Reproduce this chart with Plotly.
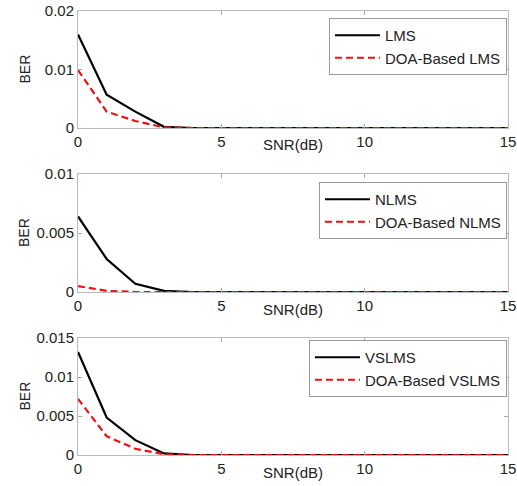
import plotly.graph_objects as go

snr = list(range(0, 16))
lms = [0.016, 0.0057, 0.0028, 0.0002] + [0.0] * 12
doa_lms = [0.0099, 0.0028, 0.0012, 0.0001] + [0.0] * 12
nlms = [0.0064, 0.0028, 0.0007, 0.0001] + [0.0] * 12
doa_nlms = [0.0005, 0.0001, 0.0, 0.0] + [0.0] * 12
vslms = [0.0132, 0.0048, 0.0019, 0.0002] + [0.0] * 12
doa_vslms = [0.0072, 0.0024, 0.0008, 0.0001] + [0.0] * 12

names = [("LMS", "DOA-Based LMS"), ("NLMS", "DOA-Based NLMS"), ("VSLMS", "DOA-Based VSLMS")]
series = [(lms, doa_lms), (nlms, doa_nlms), (vslms, doa_vslms)]
yranges = [[0, 0.02], [0, 0.01], [0, 0.015]]
yticks = [[0, 0.01, 0.02], [0, 0.005, 0.01], [0, 0.005, 0.01, 0.015]]
yticktext = [["0", "0.01", "0.02"], ["0", "0.005", "0.01"], ["0", "0.005", "0.01", "0.015"]]

W, H = 517, 486
x0, x1 = 78, 508
panels_px = [(11, 128), (174, 292), (338, 455)]
legend_top_px = [18, 182, 340]

FONT = "Liberation Sans, Arial, sans-serif"
fig = go.Figure()
layout = dict(
    width=W, height=H, margin=dict(l=0, r=0, t=0, b=0, autoexpand=False),
    paper_bgcolor="white", plot_bgcolor="white",
    font=dict(family=FONT, size=15, color="#222"),
    annotations=[],
)
for i in range(3):
    xa = "x" if i == 0 else f"x{i+1}"
    ya = "y" if i == 0 else f"y{i+1}"
    lg = "legend" if i == 0 else f"legend{i+1}"
    a, b = series[i]
    n1, n2 = names[i]
    fig.add_trace(go.Scatter(x=snr, y=a, mode="lines", name=n1, xaxis=xa, yaxis=ya, legend=lg,
                             line=dict(color="black", width=2.2)))
    fig.add_trace(go.Scatter(x=snr, y=b, mode="lines", name=n2, xaxis=xa, yaxis=ya, legend=lg,
                             line=dict(color="#ee1111", width=2.2, dash="7px,4px")))
    top, bot = panels_px[i]
    axkey_x = "xaxis" if i == 0 else f"xaxis{i+1}"
    axkey_y = "yaxis" if i == 0 else f"yaxis{i+1}"
    layout[axkey_x] = dict(
        domain=[x0 / W, x1 / W], anchor=ya, range=[0, 15], automargin=False,
        tickvals=[0, 5, 10, 15], ticks="inside", ticklen=4, tickcolor="#aaa",
        showline=True, mirror="ticks", linecolor="#bbb", linewidth=1,
        showgrid=False, zeroline=False, fixedrange=True,
        tickfont=dict(size=15, color="#222"),
    )
    layout[axkey_y] = dict(
        domain=[1 - bot / H, 1 - top / H], anchor=xa, range=yranges[i], automargin=False,
        tickvals=yticks[i], ticktext=yticktext[i], ticks="inside", ticklen=4, tickcolor="#aaa",
        showline=True, mirror="ticks", linecolor="#bbb", linewidth=1,
        showgrid=False, zeroline=False, fixedrange=True,
        tickfont=dict(size=15, color="#222"),
    )
    layout[lg] = dict(
        x=x1 / W - 0.002, y=1 - legend_top_px[i] / H, xanchor="right", yanchor="top",
        xref="paper", yref="paper", itemwidth=45,
        bgcolor="white", bordercolor="#999", borderwidth=1,
        font=dict(size=15, color="#222"), tracegroupgap=0,
    )
    layout["annotations"].append(dict(
        text="SNR(dB)", x=7.5, xref=xa, y=1 - (bot + 17) / H, yref="paper",
        showarrow=False, font=dict(size=15, color="#222"), xanchor="center", yanchor="middle",
    ))
    layout["annotations"].append(dict(
        text="BER", x=24 / W, xref="paper", y=1 - ((top + bot) / 2) / H, yref="paper",
        showarrow=False, textangle=-90, font=dict(size=14, color="#222"),
        xanchor="center", yanchor="middle",
    ))

fig.update_layout(**layout)
fig.write_html("out.html", post_script="document.body.style.margin='0px';",
               config={"displayModeBar": False})
